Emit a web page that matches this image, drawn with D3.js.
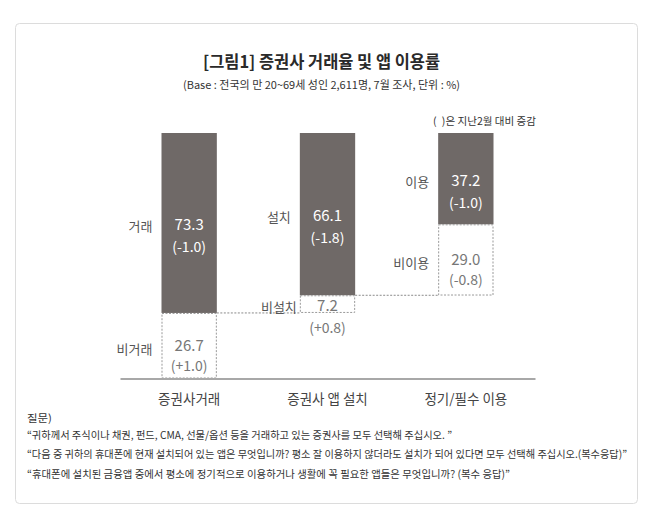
<!DOCTYPE html>
<html>
<head>
<meta charset="utf-8">
<script src="https://cdn.jsdelivr.net/npm/d3@7"></script>
<style>
  html, body { margin: 0; padding: 0; background: #fff; }
  svg { display: block; font-family: "Noto Sans CJK KR", "Noto Sans", sans-serif; }
</style>
</head>
<body>
<svg id="chart" width="658" height="528"></svg>
<script>
// ---- data ----
const categories = ["증권사거래", "증권사 앱 설치", "정기/필수 이용"];
const primaryLabels = ["거래", "설치", "이용"];
const secondaryLabels = ["비거래", "비설치", "비이용"];
const primaryValues = [73.3, 66.1, 37.2];
const secondaryValues = [26.7, 7.2, 29.0];
const primaryChange = [-1.0, -1.8, -1.0];
const secondaryChange = [1.0, 0.8, -0.8];
const titleText = "[그림1] 증권사 거래율 및 앱 이용률";
const subtitleText = "(Base : 전국의 만 20~69세 성인 2,611명, 7월 조사, 단위 : %)";
const noteText = "(\u2002)은 지난2월 대비 증감";
const footnotes = [
  "질문)",
  "\u201C귀하께서 주식이나 채권, 펀드, CMA, 선물/옵션 등을 거래하고 있는 증권사를 모두 선택해 주십시오. \u201D",
  "\u201C다음 중 귀하의 휴대폰에 현재 설치되어 있는 앱은 무엇입니까? 평소 잘 이용하지 않더라도 설치가 되어 있다면 모두 선택해 주십시오.(복수응답)\u201D",
  "\u201C휴대폰에 설치된 금융앱 중에서 평소에 정기적으로 이용하거나  생활에 꼭 필요한 앱들은 무엇입니까? (복수 응답)\u201D"
];

// ---- layout ----
const svg = d3.select("#chart");
const darkColor = "#6f6967";

svg.append("rect")
  .attr("x", 15.5).attr("y", 23.5).attr("width", 622).attr("height", 480)
  .attr("rx", 4).attr("fill", "#fff").attr("stroke", "#dcdcdc").attr("stroke-width", 1);

svg.append("text").attr("x", 321.5).attr("y", 68)
  .attr("text-anchor", "middle").attr("font-size", 17).attr("font-weight", 700)
  .attr("fill", "#2a2a2a").attr("textLength", 237).attr("lengthAdjust", "spacingAndGlyphs")
  .text(titleText);
svg.append("text").attr("x", 321.5).attr("y", 88.5)
  .attr("text-anchor", "middle").attr("font-size", 11)
  .attr("fill", "#333").attr("textLength", 277).attr("lengthAdjust", "spacingAndGlyphs")
  .text(subtitleText);
svg.append("text").attr("x", 433).attr("y", 125)
  .attr("font-size", 10.5)
  .attr("fill", "#333").attr("textLength", 103).attr("lengthAdjust", "spacingAndGlyphs")
  .text(noteText);

const x = d3.scaleBand().domain(categories).range([120, 535]).paddingInner(0.6).paddingOuter(0.3);
const y = d3.scaleLinear().domain([0, 100]).range([378.5, 133]);

const fmt = d3.format(".1f");
const fmtChange = v => "(" + (v > 0 ? "+" : v < 0 ? "-" : "") + fmt(Math.abs(v)) + ")";

// build segments hanging from top (100)
const segments = [];
categories.forEach((c, i) => {
  const top1 = 100, bot1 = 100 - primaryValues[i];
  const bot2 = bot1 - secondaryValues[i];
  segments.push({cat: c, i, kind: "primary", top: top1, bot: bot1, value: primaryValues[i], change: primaryChange[i], label: primaryLabels[i]});
  segments.push({cat: c, i, kind: "secondary", top: bot1, bot: bot2, value: secondaryValues[i], change: secondaryChange[i], label: secondaryLabels[i]});
});

// connectors (dotted lines joining the bottom of one bar's dark part to the next bar)
for (let i = 0; i < categories.length - 1; i++) {
  const yl = y(100 - primaryValues[i]);
  svg.append("line")
    .attr("x1", x(categories[i]) + x.bandwidth()).attr("x2", x(categories[i + 1]))
    .attr("y1", yl).attr("y2", yl)
    .attr("stroke", "#8a8a8a").attr("stroke-width", 1).attr("stroke-dasharray", "2,1.5");
}

const g = svg.append("g");
g.selectAll("rect.seg").data(segments).join("rect")
  .attr("class", "seg")
  .attr("x", d => d.kind === "primary" ? x(d.cat) : x(d.cat) + 0.5)
  .attr("y", d => d.kind === "primary" ? y(d.top) : y(d.top) + 0.5)
  .attr("width", d => d.kind === "primary" ? x.bandwidth() : x.bandwidth() - 1)
  .attr("height", d => d.kind === "primary" ? y(d.bot) - y(d.top) : y(d.bot) - y(d.top) - 1)
  .attr("fill", d => d.kind === "primary" ? darkColor : "#fff")
  .attr("stroke", d => d.kind === "primary" ? "none" : "#999")
  .attr("stroke-width", 1)
  .attr("stroke-dasharray", d => d.kind === "primary" ? null : "2,1.5");

// axis
const axis = svg.append("g").attr("transform", "translate(0," + y(0) + ")")
  .call(d3.axisBottom(x).tickSize(0).tickPadding(16));
axis.select(".domain").attr("stroke", "#a8a8a8").attr("stroke-width", 2);
axis.selectAll("text").attr("font-size", 13.5).attr("fill", "#444")
  .attr("font-family", "'Noto Sans CJK KR', sans-serif");

// segment texts
segments.forEach(d => {
  const y0 = y(d.top), y1 = y(d.bot);
  const h = y1 - y0;
  const cx = x(d.cat) + x.bandwidth() / 2;
  const mid = (y0 + y1) / 2;
  const small = h < 25;
  const primary = d.kind === "primary";
  const textColor = primary ? "#fff" : "#777";
  const valBase = primary || small ? mid + 7 : mid + 5.5;
  const chgBase = small ? y1 + 20 : valBase + (primary ? 22 : 20);
  g.append("text").attr("x", cx).attr("y", valBase).attr("text-anchor", "middle")
    .attr("font-size", 15).attr("fill", textColor).text(fmt(d.value));
  g.append("text").attr("x", cx).attr("y", chgBase).attr("text-anchor", "middle")
    .attr("font-size", 14).attr("fill", small ? "#777" : textColor).text(fmtChange(d.change));
  g.append("text").attr("x", x(d.cat) - (small ? 3 : 9)).attr("y", mid + 8)
    .attr("text-anchor", "end").attr("font-size", 13).attr("fill", "#555").text(d.label);
});

// footnotes
const fnBase = [422, 438.5, 458, 478];
const fnWidth = [25, 425, 600, 483];
footnotes.forEach((t, i) => {
  svg.append("text").attr("x", 27).attr("y", fnBase[i])
    .attr("font-size", 10.5).attr("fill", "#333")
    .attr("textLength", fnWidth[i]).attr("lengthAdjust", "spacingAndGlyphs")
    .text(t);
});
</script>
</body>
</html>
